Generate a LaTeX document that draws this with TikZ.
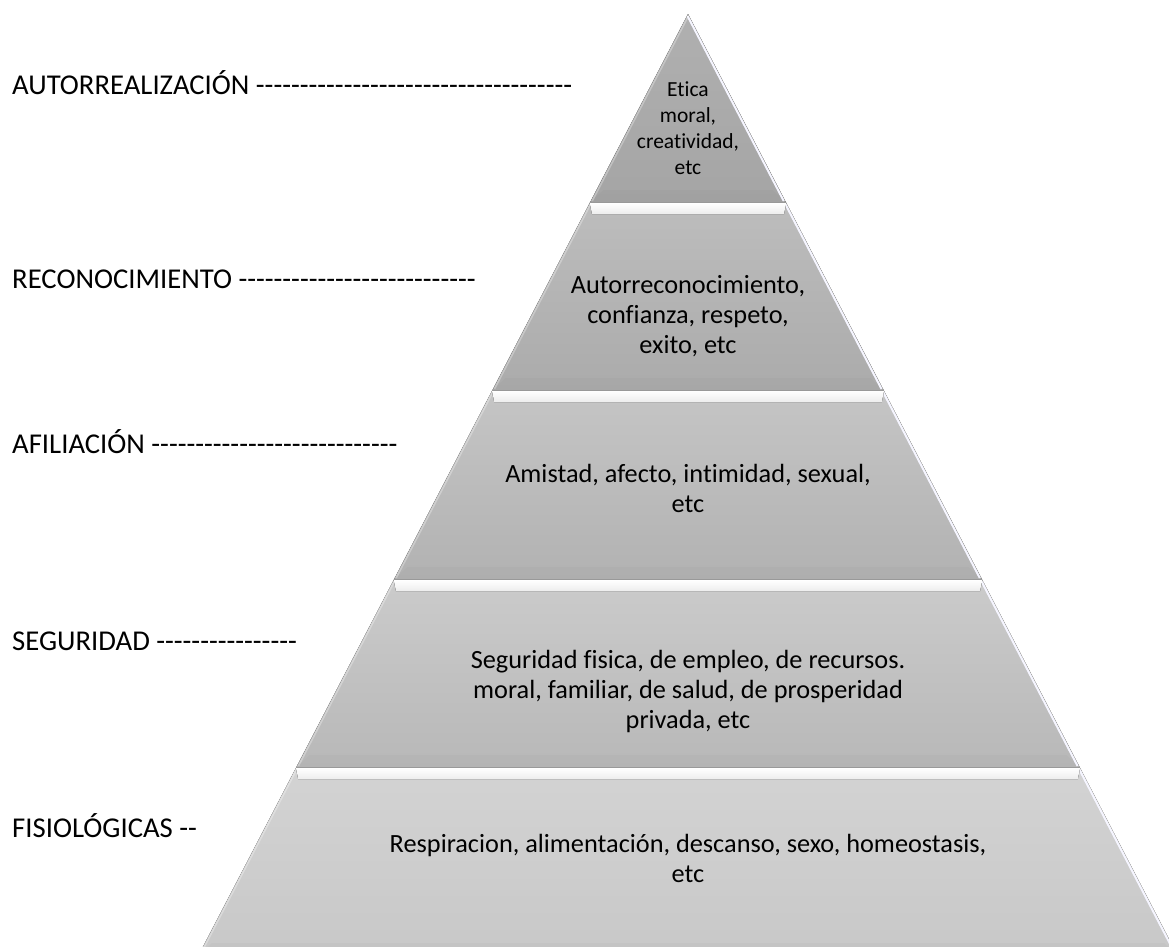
\documentclass[tikz,border=0pt]{standalone}
\usepackage{fontspec}
\setmainfont{Carlito}[Ligatures={TeXOff,CommonOff}]
\begin{document}
\begin{tikzpicture}[x=1pt,y=-1pt,
  declare function={Lx(\t)=688-0.52*(\t-14); Rx(\t)=688+0.52*(\t-14);},
  lbl/.style={anchor=base west, font=\fontsize{28.7}{34}\selectfont, inner sep=0pt},
  ptxt/.style={anchor=base, font=\fontsize{26.3}{30}\selectfont, inner sep=0pt},
  ttxt/.style={anchor=base, font=\fontsize{21.5}{26}\selectfont, inner sep=0pt},
  sepline/.style={draw=black!40, line width=1pt},
  righthi/.style={draw=white!85!blue!25!white, line width=2pt},
  lefthi/.style={draw=white, draw opacity=0.3, line width=1.5pt}
]
\useasboundingbox (0,0) rectangle (1169,946);
\fill[white] (0,0) rectangle (1169,946);
\begin{scope}
\clip (0,0) rectangle (1169,946);
\foreach \yt/\yb/\ct/\cb [count=\i] in {14/202/B0B0B0/A5A5A5, 202/390/BDBDBD/ABABAB, 390/579/C5C5C5/B2B2B2, 579/767/CBCBCB/B8B8B8, 767/955/D3D3D3/C8C8C8}{
  \definecolor{ct}{HTML}{\ct}
  \definecolor{cb}{HTML}{\cb}
  \fill[top color=ct, bottom color=cb]
    ({Lx(\yt)},\yt) -- ({Rx(\yt)},\yt) -- ({Rx(\yb)},\yb) -- ({Lx(\yb)},\yb) -- cycle;
  \fill[cb!90!black, opacity=0.2]
    ({Lx(\yb-12)+7},\yb-12) -- ({Rx(\yb-12)-7},\yb-12) -- ({Rx(\yb)},\yb) -- ({Lx(\yb)},\yb) -- cycle;
  \draw[righthi] ({Rx(\yt+2)-1.5},\yt+2) -- ({Rx(\yb-1)-1.5},\yb-1);
  \draw[lefthi] ({Lx(\yt+2)+1.5},\yt+2) -- ({Lx(\yb-1)+1.5},\yb-1);
}
\foreach \yt in {202,390,579,767}{
  \fill[top color=white, bottom color=white!93!black]
    ({Lx(\yt+1)},\yt+1) -- ({Rx(\yt+1)},\yt+1) -- ({Rx(\yt+12)-8},\yt+12) -- ({Lx(\yt+12)+8},\yt+12) -- cycle;
  \draw[sepline] ({Lx(\yt)},\yt) -- ({Rx(\yt)},\yt);
}
\end{scope}
\node[lbl] (l1) at (12,94) {AUTORREALIZACIÓN ------------------------------------};
\node[lbl] (l2) at (12,288) {RECONOCIMIENTO ---------------------------};
\node[lbl] (l3) at (12,453) {AFILIACIÓN ----------------------------};
\node[lbl] (l4) at (12,650) {SEGURIDAD ----------------};
\node[lbl] (l5) at (12,837) {FISIOLÓGICAS --};
\node[ttxt] (t1a) at (688,96) {Etica};
\node[ttxt] (t1b) at (688,122) {moral,};
\node[ttxt] (t1c) at (688,148) {creatividad,};
\node[ttxt] (t1d) at (688,174) {etc};
\node[ptxt] (t2a) at (688,293) {Autorreconocimiento,};
\node[ptxt] (t2b) at (688,323) {confianza, respeto,};
\node[ptxt] (t2c) at (688,353) {exito, etc};
\node[ptxt] (t3a) at (688,482) {Amistad, afecto, intimidad, sexual,};
\node[ptxt] (t3b) at (688,512) {etc};
\node[ptxt] (t4a) at (688,668) {Seguridad fisica, de empleo, de recursos.};
\node[ptxt] (t4b) at (688,698) {moral, familiar, de salud, de prosperidad};
\node[ptxt] (t4c) at (688,728) {privada, etc};
\node[ptxt] (t5a) at (688,852) {Respiracion, alimentación, descanso, sexo, homeostasis,};
\node[ptxt] (t5b) at (688,882) {etc};
\end{tikzpicture}
\end{document}
